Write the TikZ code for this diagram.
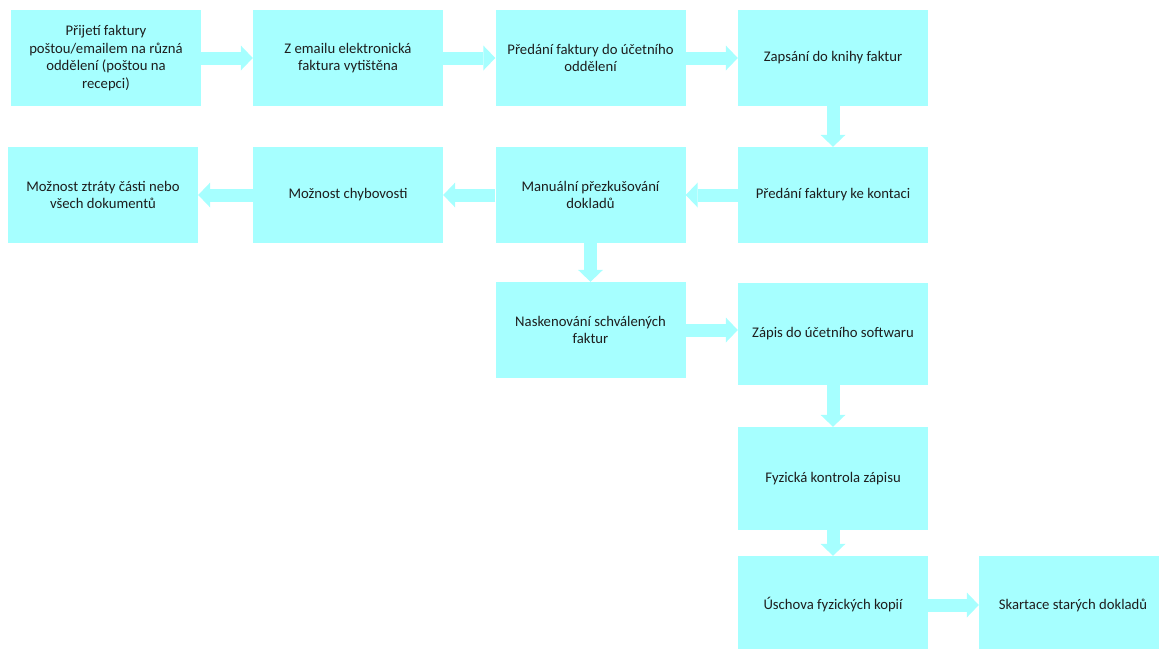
\documentclass[tikz,border=0pt]{standalone}
\usepackage{fontspec}
\setmainfont{Carlito}
\usetikzlibrary{arrows.meta}
\definecolor{tyrkys}{RGB}{166,255,255}
\definecolor{popis}{RGB}{30,30,30}
\begin{document}
\begin{tikzpicture}[x=1pt,y=-1pt,
    krok/.style={fill=tyrkys,text=popis,minimum width=190pt,minimum height=96pt,inner sep=0pt,align=center,font=\fontsize{14.7}{17.8}\selectfont},
    tok/.style={draw=tyrkys,line width=13pt,-{Triangle[length=12pt,width=25pt,line width=0pt]}}]
      \useasboundingbox (0,0) rectangle (1159,648);
      \node[krok] (prijeti) at (106,58) {Přijetí faktury\\poštou/emailem na různá\\oddělení (poštou na\\recepci)};
      \node[krok] (tisk) at (348,58) {Z emailu elektronická\\faktura vytištěna};
      \node[krok] (predani) at (590.5,58) {Předání faktury do účetního\\oddělení};
      \node[krok] (kniha) at (833,58) {Zapsání do knihy faktur};
      \node[krok] (kontace) at (833,195) {Předání faktury ke kontaci};
      \node[krok] (prezkum) at (590.5,195) {Manuální přezkušování\\dokladů};
      \node[krok] (chyby) at (348,195) {Možnost chybovosti};
      \node[krok] (ztrata) at (103,195) {Možnost ztráty části nebo\\všech dokumentů};
      \node[krok] (sken) at (590.5,330) {Naskenování schválených\\faktur};
      \node[krok,minimum height=102pt] (software) at (833,334) {Zápis do účetního softwaru};
      \node[krok,minimum height=103pt] (kontrola) at (833,478.5) {Fyzická kontrola zápisu};
      \node[krok,minimum height=98pt] (uschova) at (833,605) {Úschova fyzických kopií};
      \node[krok,minimum width=188pt,minimum height=98pt] (skartace) at (1073,605) {Skartace starých dokladů};
      \draw[tok] (prijeti) -- (tisk);
      \draw[tok] (tisk) -- (predani);
      \draw[tok] (predani) -- (kniha);
      \draw[tok] (kniha) -- (kontace);
      \draw[tok] (kontace) -- (prezkum);
      \draw[tok] (prezkum) -- (chyby);
      \draw[tok] (chyby) -- (ztrata);
      \draw[tok] (prezkum) -- (sken);
      \draw[tok] (sken.east) -- (sken.east -| software.west);
      \draw[tok] (software) -- (kontrola);
      \draw[tok] (kontrola) -- (uschova);
      \draw[tok] (uschova) -- (skartace);
    \end{tikzpicture}
\end{document}
